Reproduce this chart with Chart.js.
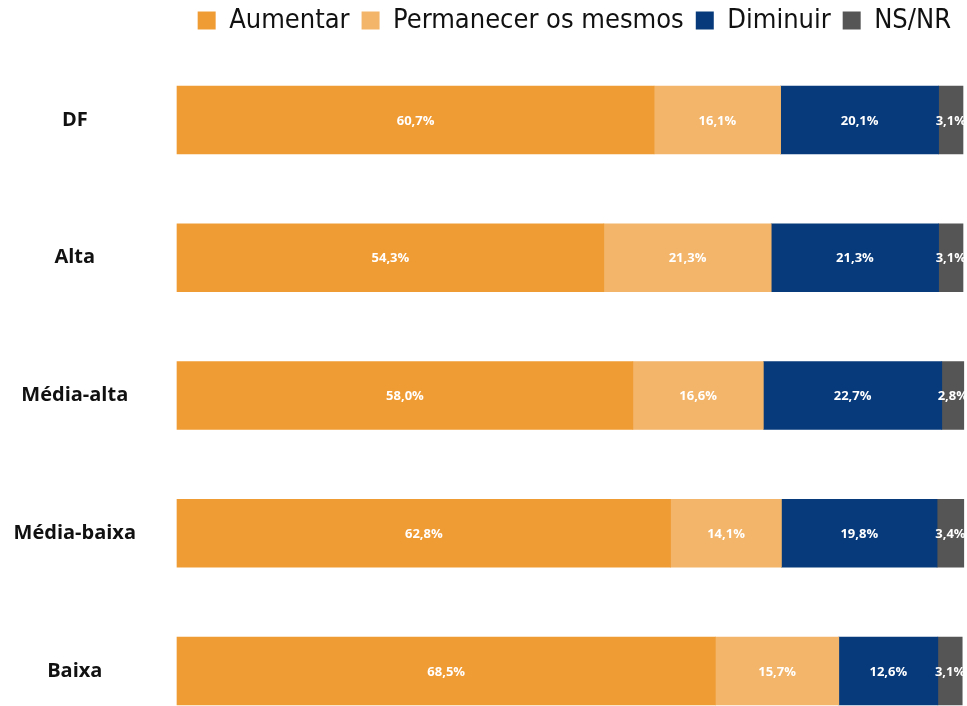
<!DOCTYPE html>
<html>
<head>
<meta charset="utf-8">
<script src="https://cdn.jsdelivr.net/npm/chart.js@4"></script>
<style>
  html, body { margin: 0; padding: 0; background: #ffffff; }
  #wrap { width: 967px; height: 706px; }
</style>
</head>
<body>
<div id="wrap"><canvas id="chart" width="967" height="706"></canvas></div>
<script>
// Data
const categories = ['DF', 'Alta', 'Média-alta', 'Média-baixa', 'Baixa'];
const seriesNames = ['Aumentar', 'Permanecer os mesmos', 'Diminuir', 'NS/NR'];
const aumentar   = [60.7, 54.3, 58.0, 62.8, 68.5];
const permanecer = [16.1, 21.3, 16.6, 14.1, 15.7];
const diminuir   = [20.1, 21.3, 22.7, 19.8, 12.6];
const nsnr       = [3.1, 3.1, 2.8, 3.4, 3.1];

const colors = [
    '#f09c35',  // orange
    '#f2b56a',  // light orange
    '#073a7b',  // navy
    '#555555'   // gray
];

const seriesValues = [aumentar, permanecer, diminuir, nsnr];

const datasets = seriesNames.map((name, i) => ({
    label: name,
    data: seriesValues[i],
    backgroundColor: colors[i],
    borderWidth: 0,
    barThickness: 68,
    clip: false
}));

// Labels drawn inside each bar segment
const barLabels = {
    id: 'barLabels',
    afterDatasetsDraw(chart) {
        const ctx = chart.ctx;
        ctx.save();
        ctx.font = 'bold 13px "Open Sans", sans-serif';
        ctx.fillStyle = '#ffffff';
        ctx.textAlign = 'center';
        ctx.textBaseline = 'middle';
        chart.data.datasets.forEach((ds, di) => {
            const meta = chart.getDatasetMeta(di);
            meta.data.forEach((bar, i) => {
                const v = ds.data[i];
                const cx = (bar.x + bar.base) / 2;
                ctx.fillText(v.toFixed(1).replace('.', ',') + '%', cx, bar.y + 1);
            });
        });
        ctx.restore();
    }
};

new Chart(document.getElementById('chart').getContext('2d'), {
    type: 'bar',
    data: { labels: categories, datasets },
    options: {
        indexAxis: 'y',
        responsive: false,
        animation: false,
        layout: {
            padding: { top: -5, bottom: 35, left: 0, right: 4 }
        },
        scales: {
            x: {
                stacked: true,
                min: 0,
                max: 100,
                position: 'top',
                border: { display: false },
                grid: { display: false, drawTicks: false },
                ticks: { display: false },
                // spacer between legend and first bar
                afterFit: (scale) => { scale.height = 76; }
            },
            y: {
                stacked: true,
                offset: false,
                border: { display: false },
                grid: { display: false, drawTicks: false },
                ticks: {
                    crossAlign: 'center',
                    padding: 41,
                    color: '#111111',
                    font: { family: '"Open Sans", sans-serif', size: 20, weight: 'bold' }
                },
                afterFit: (scale) => {
                    scale.width = 177;
                    scale.paddingTop = 0;
                    scale.paddingBottom = 0;
                }
            }
        },
        plugins: {
            legend: {
                display: true,
                position: 'top',
                align: 'end',
                labels: {
                    boxWidth: 18,
                    boxHeight: 18,
                    padding: 12,
                    color: '#111111',
                    font: { family: '"Liberation Sans Narrow", "DejaVu Sans Condensed", sans-serif', size: 27 }
                }
            },
            tooltip: { enabled: false }
        }
    },
    plugins: [barLabels]
});
</script>
</body>
</html>
